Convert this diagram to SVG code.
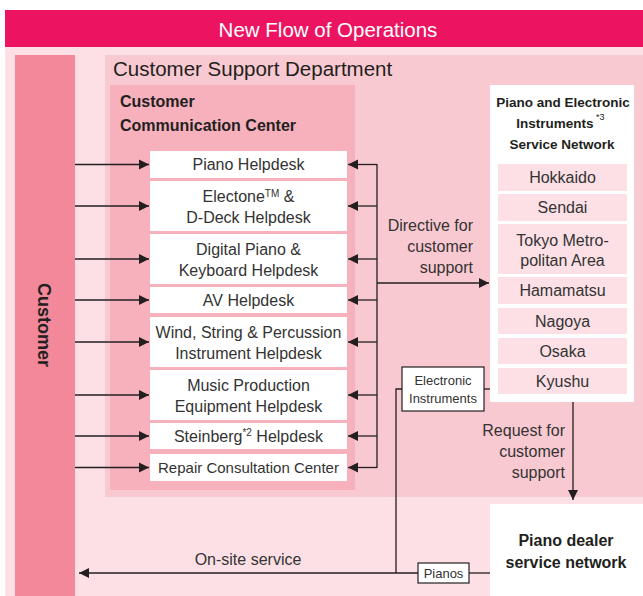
<svg xmlns="http://www.w3.org/2000/svg" width="643" height="596" viewBox="0 0 643 596">
<defs>
<style>
.t{font-family:"Liberation Sans",Arial,sans-serif;fill:#333;}
.hd{font-size:16px;text-anchor:middle;}
.rg{font-size:16px;text-anchor:middle;}
.sn{font-size:13.5px;font-weight:bold;text-anchor:middle;fill:#231F20;}
.ln{stroke:#231F20;stroke-width:1.3;fill:none;}
.wb{fill:#fff;}
.rb{fill:#FCE0E5;}
.lb{fill:#fff;stroke:#231F20;stroke-width:1.2;}
</style>
<marker id="ah" viewBox="0 0 10 10" markerWidth="10" markerHeight="11" refX="10" refY="5" orient="auto" markerUnits="userSpaceOnUse">
<path d="M0,0 L10,5 L0,10 z" fill="#231F20"/>
</marker>
</defs>
<rect width="643" height="596" fill="#fff"/>
<g id="title">
<rect x="5" y="10" width="638" height="37" fill="#EC1461"/>
<text class="t" x="328" y="37" font-size="20.5" text-anchor="middle" style="fill:#fff">New Flow of Operations</text>
</g>
<rect x="5" y="47" width="638" height="549" fill="#FCE0E5"/>
<g id="customer">
<rect x="15" y="55" width="60" height="541" fill="#F2889A"/>
<text class="t" transform="translate(38,325) rotate(90)" font-size="18" font-weight="bold" text-anchor="middle" style="fill:#231F20">Customer</text>
</g>
<g id="csd">
<rect x="105" y="55" width="538" height="442" fill="#F9C9D1"/>
<text class="t" x="113" y="76" font-size="20.5" style="fill:#231F20">Customer Support Department</text>
</g>
<g id="ccc">
<rect x="110" y="85" width="245" height="405" fill="#F7B1BD"/>
<text class="t" x="120" y="107" font-size="16" font-weight="bold" style="fill:#231F20">Customer</text>
<text class="t" x="120" y="131" font-size="16" font-weight="bold" style="fill:#231F20">Communication Center</text>
</g>
<g id="piano-helpdesk"><rect class="wb" x="150" y="151" width="197" height="27"/><text class="t hd" x="248.5" y="170">Piano Helpdesk</text></g>
<g id="electone-helpdesk"><rect class="wb" x="150" y="181" width="197" height="50"/><text class="t hd" x="248.5" y="202">Electone<tspan font-size="10" dy="-5">TM</tspan><tspan dy="5"> &amp;</tspan></text><text class="t hd" x="248.5" y="223">D-Deck Helpdesk</text></g>
<g id="digital-helpdesk"><rect class="wb" x="150" y="234" width="197" height="50"/><text class="t hd" x="248.5" y="255">Digital Piano &amp;</text><text class="t hd" x="248.5" y="276">Keyboard Helpdesk</text></g>
<g id="av-helpdesk"><rect class="wb" x="150" y="287" width="197" height="26"/><text class="t hd" x="248.5" y="306">AV Helpdesk</text></g>
<g id="wind-helpdesk"><rect class="wb" x="150" y="317" width="197" height="50"/><text class="t hd" x="248.5" y="338">Wind, String &amp; Percussion</text><text class="t hd" x="248.5" y="359">Instrument Helpdesk</text></g>
<g id="music-helpdesk"><rect class="wb" x="150" y="370" width="197" height="50"/><text class="t hd" x="248.5" y="391">Music Production</text><text class="t hd" x="248.5" y="412">Equipment Helpdesk</text></g>
<g id="steinberg-helpdesk"><rect class="wb" x="150" y="423" width="197" height="26"/><text class="t hd" x="248.5" y="442">Steinberg<tspan font-size="10" dy="-6">*2</tspan><tspan dy="6"> Helpdesk</tspan></text></g>
<g id="repair-center"><rect class="wb" x="150" y="454" width="197" height="27"/><text class="t hd" x="248.5" y="473" style="font-size:15px">Repair Consultation Center</text></g>
<g id="service-network">
<rect class="wb" x="490" y="85" width="144" height="317"/>
<text class="t sn" x="563" y="107">Piano and Electronic</text>
<text class="t sn" x="555" y="128">Instruments</text>
<text class="t" x="596" y="120" font-size="9" style="fill:#231F20">*3</text>
<text class="t sn" x="562" y="149">Service Network</text>
<rect class="rb" x="498" y="164" width="129" height="27"/><text class="t rg" x="562.5" y="183">Hokkaido</text>
<rect class="rb" x="498" y="194" width="129" height="27"/><text class="t rg" x="562.5" y="213">Sendai</text>
<rect class="rb" x="498" y="224" width="129" height="50"/><text class="t rg" x="562.5" y="246">Tokyo Metro-</text><text class="t rg" x="562.5" y="266">politan Area</text>
<rect class="rb" x="498" y="277" width="129" height="27"/><text class="t rg" x="562.5" y="296">Hamamatsu</text>
<rect class="rb" x="498" y="308" width="129" height="26"/><text class="t rg" x="562.5" y="327">Nagoya</text>
<rect class="rb" x="498" y="338" width="129" height="26"/><text class="t rg" x="562.5" y="357">Osaka</text>
<rect class="rb" x="498" y="368" width="129" height="26"/><text class="t rg" x="562.5" y="387">Kyushu</text>
</g>
<g id="dealer-network">
<rect class="wb" x="490" y="504" width="153" height="92"/>
<text class="t" x="566" y="546" font-size="16" font-weight="bold" text-anchor="middle" style="fill:#231F20">Piano dealer</text>
<text class="t" x="566" y="568" font-size="16" font-weight="bold" text-anchor="middle" style="fill:#231F20">service network</text>
</g>
<g id="connectors">
<line class="ln" x1="75" y1="164.5" x2="149" y2="164.5" marker-end="url(#ah)"/>
<line class="ln" x1="75" y1="206" x2="149" y2="206" marker-end="url(#ah)"/>
<line class="ln" x1="75" y1="259" x2="149" y2="259" marker-end="url(#ah)"/>
<line class="ln" x1="75" y1="300" x2="149" y2="300" marker-end="url(#ah)"/>
<line class="ln" x1="75" y1="342" x2="149" y2="342" marker-end="url(#ah)"/>
<line class="ln" x1="75" y1="395" x2="149" y2="395" marker-end="url(#ah)"/>
<line class="ln" x1="75" y1="436" x2="149" y2="436" marker-end="url(#ah)"/>
<line class="ln" x1="75" y1="467.5" x2="149" y2="467.5" marker-end="url(#ah)"/>
<line class="ln" x1="377" y1="164" x2="377" y2="468"/>
<line class="ln" x1="377" y1="164.5" x2="348" y2="164.5" marker-end="url(#ah)"/>
<line class="ln" x1="377" y1="206" x2="348" y2="206" marker-end="url(#ah)"/>
<line class="ln" x1="377" y1="259" x2="348" y2="259" marker-end="url(#ah)"/>
<line class="ln" x1="377" y1="300" x2="348" y2="300" marker-end="url(#ah)"/>
<line class="ln" x1="377" y1="342" x2="348" y2="342" marker-end="url(#ah)"/>
<line class="ln" x1="377" y1="395" x2="348" y2="395" marker-end="url(#ah)"/>
<line class="ln" x1="377" y1="436" x2="348" y2="436" marker-end="url(#ah)"/>
<line class="ln" x1="377" y1="467.5" x2="348" y2="467.5" marker-end="url(#ah)"/>
<line class="ln" x1="377" y1="283" x2="489" y2="283" marker-end="url(#ah)"/>
<text class="t" x="473" y="231" font-size="16" text-anchor="end">Directive for</text>
<text class="t" x="473" y="252" font-size="16" text-anchor="end">customer</text>
<text class="t" x="473" y="273" font-size="16" text-anchor="end">support</text>
<line class="ln" x1="573" y1="402" x2="573" y2="500" marker-end="url(#ah)"/>
<text class="t" x="565" y="436" font-size="16" text-anchor="end">Request for</text>
<text class="t" x="565" y="457" font-size="16" text-anchor="end">customer</text>
<text class="t" x="565" y="478" font-size="16" text-anchor="end">support</text>
<polyline class="ln" points="402,389 396,389 396,573"/>
<line class="ln" x1="484" y1="389" x2="490" y2="389"/>
<rect class="lb" x="402" y="367" width="82" height="44"/>
<text class="t" x="443" y="385" font-size="13" text-anchor="middle">Electronic</text>
<text class="t" x="443" y="403" font-size="13" text-anchor="middle">Instruments</text>
<line class="ln" x1="490" y1="573" x2="469" y2="573"/>
<line class="ln" x1="418" y1="573" x2="79" y2="573" marker-end="url(#ah)"/>
<rect class="lb" x="418" y="563" width="51" height="20"/>
<text class="t" x="443.5" y="578" font-size="13" text-anchor="middle">Pianos</text>
<text class="t" x="248" y="565" font-size="16" text-anchor="middle">On-site service</text>
</g>
</svg>
